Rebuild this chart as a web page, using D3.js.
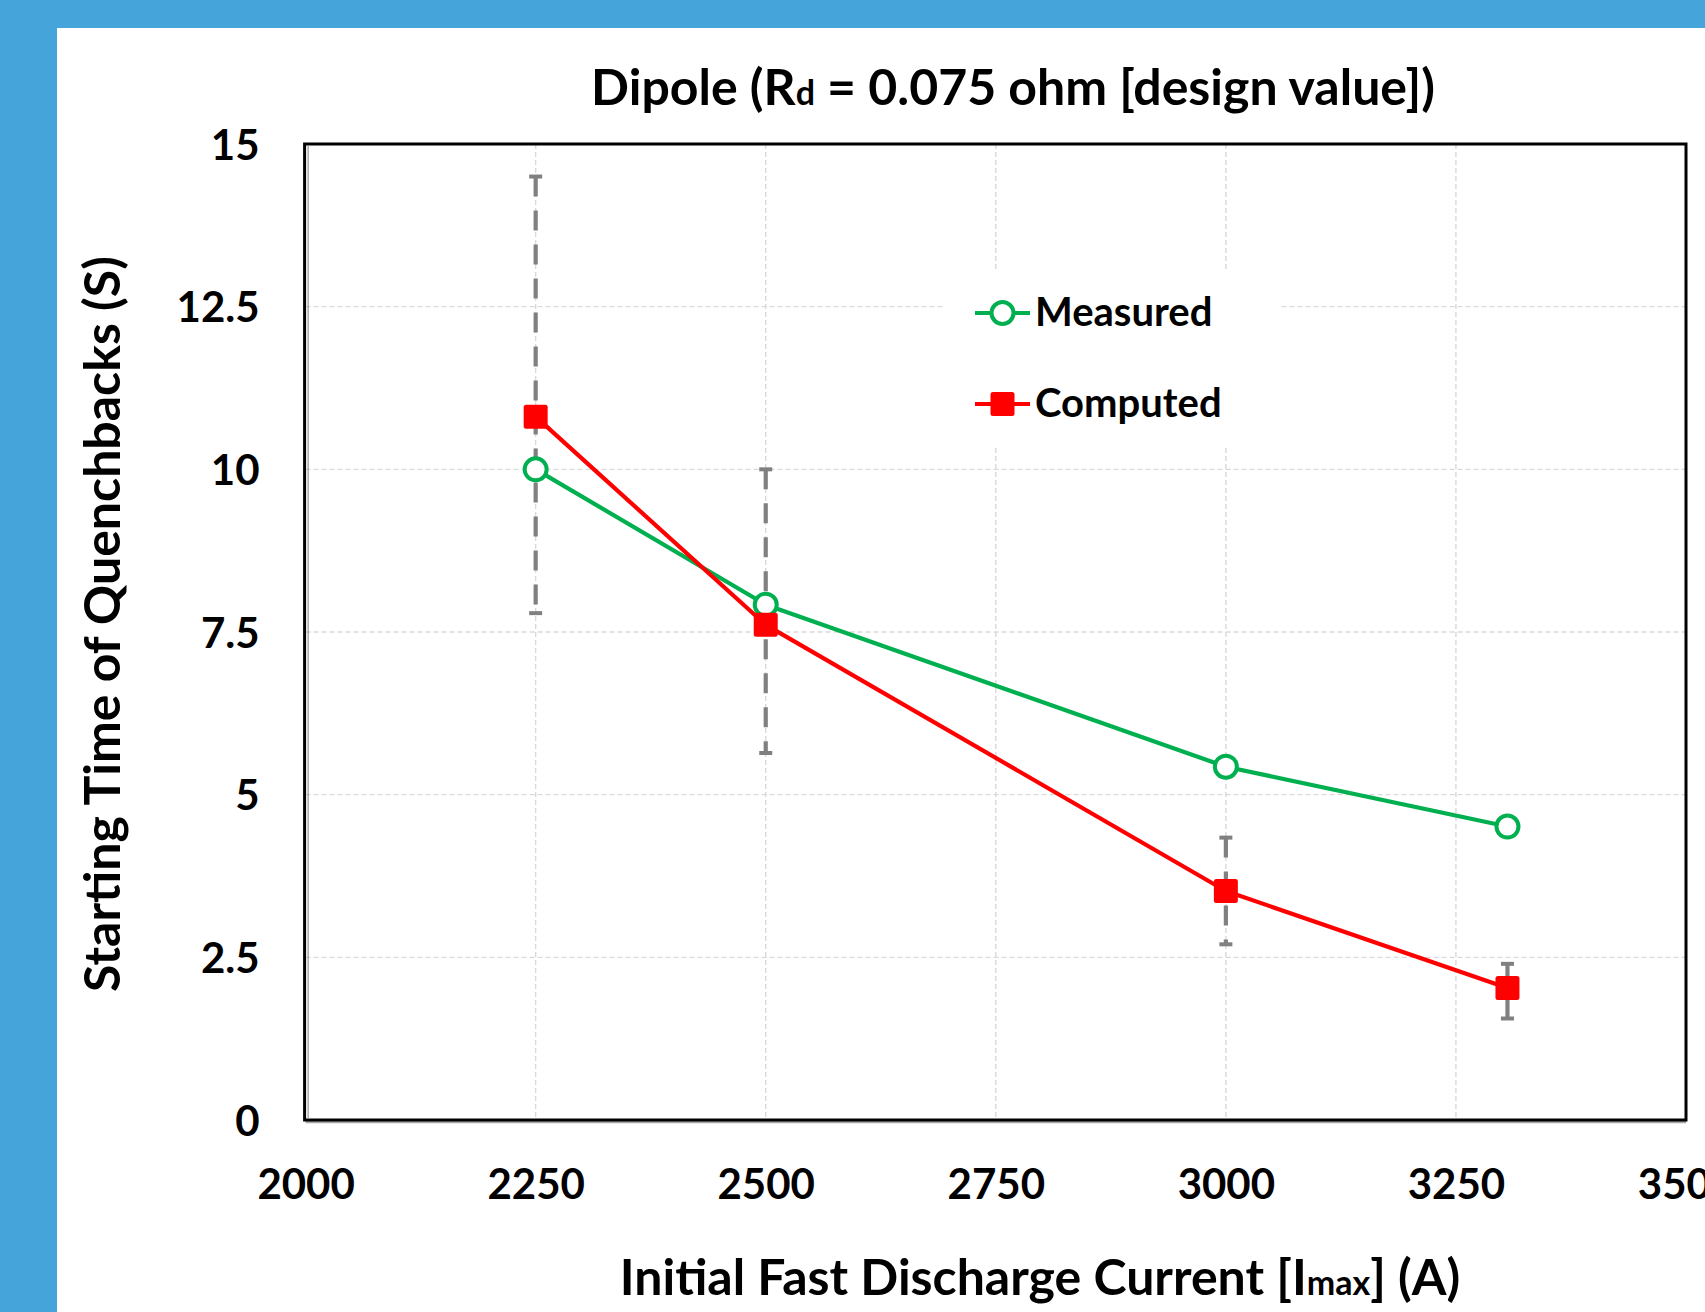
<!DOCTYPE html>
<html>
<head>
<meta charset="utf-8">
<script src="https://cdn.jsdelivr.net/npm/d3@7"></script>
<style>
  html, body { margin: 0; padding: 0; background: #45a5da; overflow: hidden; }
  svg { display: block; }
  text { font-family: Lato, "Open Sans", sans-serif; font-weight: 700; fill: #000; }
</style>
</head>
<body>
<svg id="chart"></svg>
<script>
// values
const currents = [2250, 2500, 3000, 3306];
const measured = [10.0, 7.92, 5.43, 4.51];
const computed = [10.81, 7.61, 3.52, 2.03];
const errLow = [7.79, 5.64, 2.70, 1.56];
const errHigh = [14.5, 10.0, 4.34, 2.40];
const xTicks = [2000, 2250, 2500, 2750, 3000, 3250, 3500];
const yTicks = [0, 2.5, 5, 7.5, 10, 12.5, 15];
const seriesNames = ["Measured", "Computed"];
const seriesColors = ["#00b050", "#ff0000"];

const W = 1705, H = 1312;
const plot = { left: 305.6, right: 1686, top: 144, bottom: 1120 };

const svg = d3.select("#chart").attr("width", W).attr("height", H);

// white panel inside the blue frame
svg.append("rect").attr("x", 57).attr("y", 28)
	.attr("width", W - 57).attr("height", H - 28).attr("fill", "#fff");

const x = d3.scaleLinear().domain([2000, 3500]).range([plot.left, plot.right]);
const y = d3.scaleLinear().domain([0, 15]).range([plot.bottom, plot.top]);

// grid lines
const grid = svg.append("g").attr("class", "grid")
	.attr("stroke", "#d9d9d9").attr("stroke-width", 1.4).attr("stroke-dasharray", "5,3");
grid.selectAll("line.v").data(xTicks.slice(1, -1)).enter().append("line")
	.attr("class", "v")
	.attr("x1", d => x(d)).attr("x2", d => x(d))
	.attr("y1", plot.top).attr("y2", plot.bottom);
grid.selectAll("line.h").data(yTicks.slice(1, -1)).enter().append("line")
	.attr("class", "h")
	.attr("x1", plot.left).attr("x2", plot.right)
	.attr("y1", d => y(d)).attr("y2", d => y(d));

// axes (labels only, the frame is drawn separately)
const xAxis = svg.append("g")
	.attr("transform", `translate(0,${plot.bottom + 79})`)
	.call(d3.axisBottom(x).tickValues(xTicks).tickSize(0).tickPadding(0).tickFormat(d3.format("d")));
xAxis.select(".domain").remove();
xAxis.selectAll("text").attr("font-size", 42).attr("dy", 0);

const yAxis = svg.append("g")
	.attr("transform", `translate(${plot.left - 46},0)`)
	.call(d3.axisLeft(y).tickValues(yTicks).tickSize(0).tickPadding(0).tickFormat(d => d));
yAxis.select(".domain").remove();
yAxis.selectAll("text").attr("font-size", 42).attr("dy", "0.36em");
svg.selectAll(".tick text").attr("fill", "#000").attr("font-family", null);

// error bars
const err = svg.append("g").attr("class", "errorbars").attr("stroke", "#808080");
currents.forEach((c, i) => {
	err.append("line")
		.attr("x1", x(c)).attr("x2", x(c))
		.attr("y1", y(errHigh[i])).attr("y2", y(errLow[i]))
		.attr("stroke-width", 4.2).attr("stroke-dasharray", "20,14");
	[errHigh[i], errLow[i]].forEach(v => {
		err.append("line")
			.attr("x1", x(c) - 6.5).attr("x2", x(c) + 6.5)
			.attr("y1", y(v)).attr("y2", y(v))
			.attr("stroke-width", 4);
	});
});

// series lines
const line = d3.line().x(d => x(d[0])).y(d => y(d[1]));
const seriesData = [measured, computed].map(vals => currents.map((c, i) => [c, vals[i]]));
svg.append("g").selectAll("path").data(seriesData).enter().append("path")
	.attr("d", line)
	.attr("fill", "none")
	.attr("stroke", (d, i) => seriesColors[i])
	.attr("stroke-width", 4.2)
	.attr("stroke-linejoin", "round");

// markers
svg.append("g").selectAll("circle").data(seriesData[0]).enter().append("circle")
	.attr("cx", d => x(d[0])).attr("cy", d => y(d[1]))
	.attr("r", 11).attr("fill", "#fff")
	.attr("stroke", seriesColors[0]).attr("stroke-width", 4);
svg.append("g").selectAll("rect").data(seriesData[1]).enter().append("rect")
	.attr("x", d => x(d[0]) - 12).attr("y", d => y(d[1]) - 12)
	.attr("width", 24).attr("height", 24).attr("rx", 2.5)
	.attr("fill", seriesColors[1]);

// legend (white box hides the grid behind it)
const legend = svg.append("g").attr("class", "legend");
legend.append("rect").attr("x", 945).attr("y", 269)
	.attr("width", 334).attr("height", 179).attr("fill", "#fff");
const item = legend.selectAll("g.item").data(seriesNames).enter().append("g")
	.attr("class", "item")
	.attr("transform", (d, i) => `translate(975,${313 + i * 91})`);
item.append("line").attr("x1", 0).attr("x2", 55).attr("y1", 0).attr("y2", 0)
	.attr("stroke", (d, i) => seriesColors[i]).attr("stroke-width", 4.2);
item.filter((d, i) => i === 0).append("circle")
	.attr("cx", 27.5).attr("cy", 0).attr("r", 11)
	.attr("fill", "#fff").attr("stroke", seriesColors[0]).attr("stroke-width", 4);
item.filter((d, i) => i === 1).append("rect")
	.attr("x", 15.5).attr("y", -12).attr("width", 24).attr("height", 24).attr("rx", 2.5)
	.attr("fill", seriesColors[1]);
item.append("text").attr("x", 60).attr("y", 13)
	.attr("font-size", 40).text(d => d);

// plot frame with a thin grey shadow
svg.append("line").attr("x1", plot.left).attr("x2", plot.right)
	.attr("y1", plot.bottom + 2).attr("y2", plot.bottom + 2)
	.attr("stroke", "#a6a6a6").attr("stroke-width", 2.5);
svg.append("rect")
	.attr("x", plot.left - 1).attr("y", plot.top)
	.attr("width", plot.right - plot.left + 1).attr("height", plot.bottom - plot.top)
	.attr("fill", "none").attr("stroke", "#000").attr("stroke-width", 3);
svg.append("line").attr("x1", plot.left + 2.5).attr("x2", plot.left + 2.5)
	.attr("y1", plot.top + 2).attr("y2", plot.bottom - 1)
	.attr("stroke", "#7f7f7f").attr("stroke-width", 1);

// title
const title = svg.append("text").attr("x", 1013).attr("y", 105)
	.attr("text-anchor", "middle").attr("font-size", 50);
title.append("tspan").text("Dipole (R");
title.append("tspan").attr("font-size", 34).text("d");
title.append("tspan").text(" = 0.075 ohm [design value])");

// axis titles
const xTitle = svg.append("text").attr("x", 1040).attr("y", 1295)
	.attr("text-anchor", "middle").attr("font-size", 50);
xTitle.append("tspan").text("Initial Fast Discharge Current [I");
xTitle.append("tspan").attr("font-size", 34).text("max");
xTitle.append("tspan").text("] (A)");

svg.append("text")
	.attr("transform", `translate(120,624) rotate(-90)`)
	.attr("text-anchor", "middle").attr("font-size", 50)
	.text("Starting Time of Quenchbacks (S)");
</script>
</body>
</html>
